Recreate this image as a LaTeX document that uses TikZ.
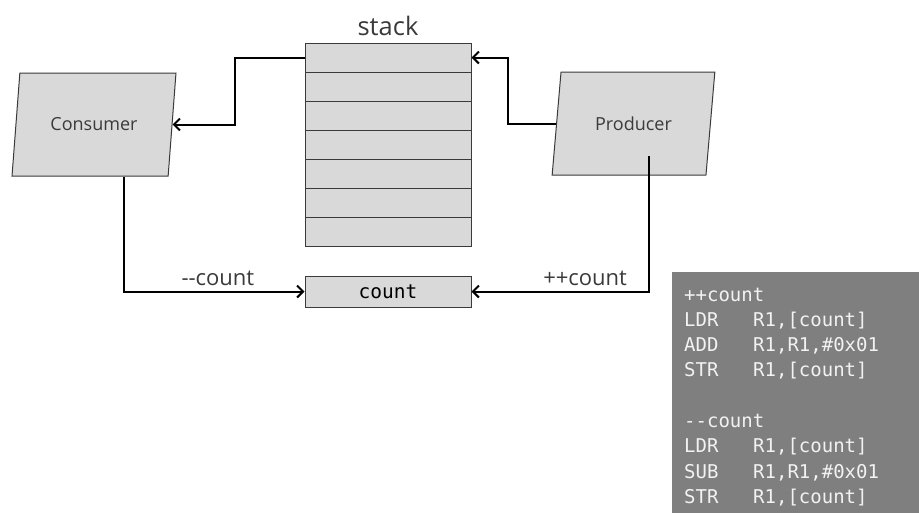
\documentclass[tikz,border=0pt]{standalone}
\usepackage{fontspec}
\setmainfont{Open Sans}
\newfontfamily\codefont{DejaVu Sans Mono}
\usetikzlibrary{shapes.geometric,positioning,arrows.meta}
\definecolor{boxfill}{HTML}{D9D9D9}
\definecolor{codebg}{HTML}{7F7F7F}
\definecolor{codetxt}{HTML}{F2F2F2}
\definecolor{txt}{HTML}{3A3A3A}

\newcommand{\asm}[2]{\makebox[69pt][l]{#1}#2}

\begin{document}
\begin{tikzpicture}[x=1pt,y=-1pt,
  cell/.style={draw=txt,fill=boxfill,minimum width=166pt,minimum height=29.14pt,inner sep=0pt,line width=1pt},
  task/.style={trapezium,trapezium left angle=76,trapezium right angle=104,trapezium stretches=true,
    draw=txt,fill=boxfill,minimum width=164pt,minimum height=103pt,line width=1pt,text=txt,
    font=\fontsize{18}{21}\selectfont},
  flow/.style={-{Straight Barb[length=6pt,width=12pt]},line width=2pt},
  lbl/.style={text=txt,font=\fontsize{22}{26}\selectfont}]
\useasboundingbox (0,0) rectangle (919,512);

\foreach \i in {1,...,7}
  \node[cell] (s\i) at (388,{43+29.14*\i-14.57}) {};
\node[lbl,font=\fontsize{25.5}{30}\selectfont,above=3pt of s1] (stk) {stack};

\node[task] (con) at (94,124.5) {Consumer};
\node[task] (prod) at (633.5,123.5) {Producer};
\node[cell,minimum height=31pt,font=\codefont\fontsize{19.5}{23}\selectfont] (cnt) at (388,291.5) {count};
\coordinate (pdrop) at (649,156);

\draw[flow] (s1.west) -- ++(-70,0) |- (con.east);
\draw[flow] (prod.west) -- ++(-48,0) |- (s1.east);
\draw[flow] ([xshift=30pt]con.south) |- (cnt.west) node[lbl,pos=0.76,above=1pt] {-\kern0pt-count};
\draw[flow] (pdrop) |- (cnt.east) node[lbl,pos=0.68,above=1pt] {++count};

\node[fill=codebg,text=codetxt,anchor=north west,text width=230pt,inner xsep=12pt,inner ysep=11pt,
  minimum height=250pt,align=left,font=\codefont\fontsize{19}{25.3}\selectfont] (code) at (672,272) {%
\strut++count\\
\strut\asm{LDR}{R1,[count]}\\
\strut\asm{ADD}{R1,R1,\#0x01}\\
\strut\asm{STR}{R1,[count]}\\
\strut\\
\strut-\kern0pt-count\\
\strut\asm{LDR}{R1,[count]}\\
\strut\asm{SUB}{R1,R1,\#0x01}\\
\strut\asm{STR}{R1,[count]}};
\end{tikzpicture}
\end{document}
